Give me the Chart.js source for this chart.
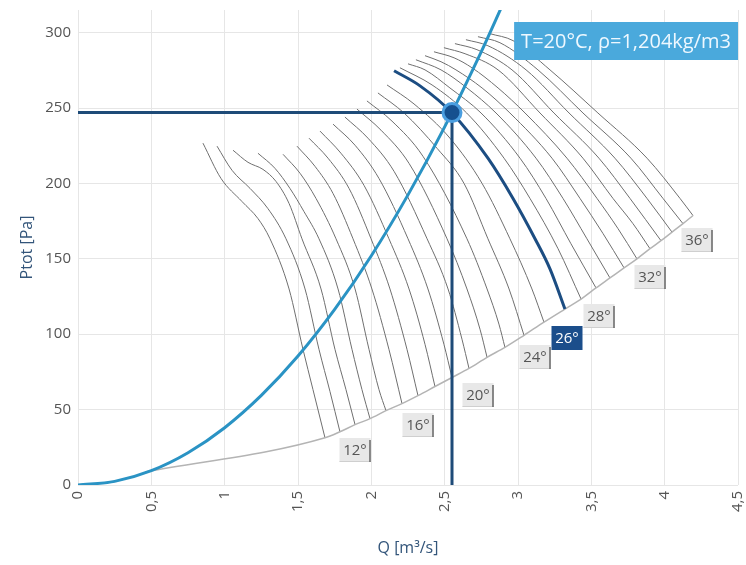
<!DOCTYPE html>
<html>
<head>
<meta charset="utf-8">
<script src="https://cdn.jsdelivr.net/npm/chart.js@4.4.1/dist/chart.umd.min.js"></script>
<style>
  html, body { margin: 0; padding: 0; background: #fff; }
</style>
</head>
<body>
<canvas id="chart" width="746" height="565"></canvas>
<script>
// blade angles, one fan curve each
const angles = [12, 13, 14, 15, 16, 17, 18, 19, 20, 21, 22, 23, 24, 25, 26, 27, 28, 29, 30, 31, 32, 33, 34, 35, 36]
const highlightAngle = 26

// Q [m3/s] of each curve, same order as angles
const curveQ = [
    [0.852, 0.975, 1.118, 1.227, 1.309, 1.439, 1.534, 1.602, 1.684],
    [0.948, 1.050, 1.173, 1.295, 1.418, 1.548, 1.643, 1.718, 1.786],
    [1.057, 1.159, 1.261, 1.350, 1.439, 1.527, 1.657, 1.752, 1.827, 1.889],
    [1.227, 1.343, 1.445, 1.541, 1.643, 1.773, 1.868, 1.936, 1.991],
    [1.398, 1.514, 1.623, 1.759, 1.889, 1.984, 2.052, 2.100],
    [1.493, 1.616, 1.739, 1.875, 2.004, 2.120, 2.209],
    [1.575, 1.705, 1.848, 1.998, 2.127, 2.243, 2.318],
    [1.650, 1.793, 1.950, 2.120, 2.257, 2.366, 2.434],
    [1.739, 1.889, 2.052, 2.250, 2.386, 2.495, 2.550],
    [1.820, 1.977, 2.155, 2.380, 2.523, 2.618, 2.666],
    [1.902, 2.066, 2.257, 2.516, 2.652, 2.741, 2.789],
    [1.970, 2.141, 2.352, 2.652, 2.789, 2.870, 2.911],
    [2.045, 2.223, 2.448, 2.632, 2.795, 2.939, 3.041],
    [2.107, 2.291, 2.536, 2.755, 2.945, 3.095, 3.177],
    [2.155, 2.332, 2.550, 2.795, 2.966, 3.116, 3.218, 3.320],
    [2.195, 2.414, 2.650, 2.905, 3.082, 3.273, 3.430],
    [2.250, 2.366, 2.536, 2.748, 3.014, 3.191, 3.361, 3.532],
    [2.304, 2.475, 2.652, 2.850, 3.123, 3.307, 3.470, 3.627],
    [2.366, 2.475, 2.577, 2.755, 2.945, 3.232, 3.423, 3.580, 3.723],
    [2.427, 2.564, 2.686, 2.864, 3.048, 3.334, 3.539, 3.682, 3.811],
    [2.495, 2.639, 2.864, 3.150, 3.443, 3.648, 3.784, 3.900],
    [2.570, 2.720, 2.959, 3.245, 3.552, 3.764, 3.975],
    [2.645, 2.795, 3.055, 3.348, 3.661, 3.880, 4.050],
    [2.727, 2.877, 3.136, 3.443, 3.770, 3.989, 4.125],
    [2.809, 2.966, 3.218, 3.545, 3.880, 4.105, 4.193]
]

// Ptot [Pa] of each curve
const curveP = [
    [226.7, 203.3, 188, 176.7, 163.3, 130, 90, 63.3, 31.3],
    [224.7, 208.7, 196.7, 183.3, 163.3, 130, 90, 62, 35.3],
    [222, 214, 209.3, 201.3, 186.7, 163.3, 130, 90, 63.3, 40],
    [220, 210, 196.7, 181.3, 163.3, 130, 90, 63.3, 44],
    [219.3, 206.7, 190, 163.3, 130, 90, 63.3, 49.3],
    [224.7, 211.3, 193.3, 163.3, 130, 90, 54],
    [230, 216.7, 196.7, 163.3, 130, 90, 59.3],
    [234.7, 220, 198.7, 163.3, 130, 93.3, 65.3],
    [239.3, 225.3, 203.3, 163.3, 130, 93.3, 71.3],
    [244, 230, 208, 163.3, 130, 96.7, 77.3],
    [249.3, 235.3, 213.3, 163.3, 130, 103.3, 84.7],
    [254.7, 241.3, 218, 163.3, 130, 106.7, 91.3],
    [260, 246.7, 223.3, 200, 163.3, 130, 99.3],
    [265.3, 252.7, 230, 200, 163.3, 130, 108],
    [274.7, 264.7, 246.7, 216.7, 190, 163.3, 143.3, 116.7],
    [276.7, 265.3, 246.7, 216.7, 190, 156.7, 123.3],
    [279.3, 275.3, 263.3, 246.7, 216.7, 190, 160, 130.7],
    [282, 275.3, 263.3, 246.7, 216.7, 190, 163.3, 137.3],
    [284.7, 280.7, 275.3, 263.3, 246.7, 216.7, 190, 166.7, 144],
    [287.3, 283.3, 276.7, 263.3, 246.7, 216.7, 190, 170, 150],
    [290, 286, 275.3, 246.7, 216.7, 190, 173.3, 156.7],
    [292.7, 288.7, 275.3, 246.7, 216.7, 190, 162],
    [295.3, 291.3, 275.3, 246.7, 216.7, 190, 167.7],
    [297.3, 293.3, 275.3, 246.7, 216.7, 190, 173.3],
    [299.3, 294.7, 275.3, 246.7, 216.7, 190, 178.7]
]

// lower limit line starts here, then runs through the curve ends
const limitStartQ = 0.457
const limitStartP = 8.7

// system curve
const sysQ = [0, 0.25, 0.5, 0.75, 1, 1.25, 1.5, 1.75, 2, 2.25, 2.5, 2.75, 2.9]
const sysP = [0, 2.4, 9.5, 21.4, 38, 59.4, 85.5, 116.4, 152, 192.4, 237.5, 287.4, 319.6]

// operating point
const opQ = 2.55
const opP = 247

// angle tags
const labelAngles = [12, 16, 20, 24, 26, 28, 32, 36]
const labelQ = [1.889, 2.318, 2.727, 3.116, 3.334, 3.552, 3.900, 4.220]
const labelP = [23.2, 39.8, 59.8, 85, 97.6, 112.2, 138.1, 162.7]

const airText = 'T=20°C, ρ=1,204kg/m3'

const FONT = '"Open Sans", "DejaVu Sans", sans-serif'

function toPoints(qs, ps) {
    return qs.map((q, i) => ({ x: q, y: ps[i] }))
}

let datasets = []

angles.forEach((a, i) => {
    let hl = a === highlightAngle
    datasets.push({
        data: toPoints(curveQ[i], curveP[i]),
        borderColor: hl ? '#1c4d82' : '#6f6f6f',
        borderWidth: hl ? 3 : 1,
        order: hl ? 1 : 6
    })
})

let limitPts = [{ x: limitStartQ, y: limitStartP }]
angles.forEach((a, i) => {
    let n = curveQ[i].length - 1
    limitPts.push({ x: curveQ[i][n], y: curveP[i][n] })
})
datasets.push({ data: limitPts, borderColor: '#b4b4b4', borderWidth: 1.5, order: 5 })

datasets.push({ data: toPoints(sysQ, sysP), borderColor: '#2a93c4', borderWidth: 3, order: 3 })

datasets.push({ data: [{ x: 0, y: opP }, { x: opQ, y: opP }], borderColor: '#1e4b78', borderWidth: 3, order: 2, cubicInterpolationMode: 'default', tension: 0 })
datasets.push({ data: [{ x: opQ, y: 0 }, { x: opQ, y: opP }], borderColor: '#1e4b78', borderWidth: 3, order: 2, cubicInterpolationMode: 'default', tension: 0 })

datasets.push({
    data: [{ x: opQ, y: opP }],
    showLine: false,
    pointRadius: 9,
    pointBackgroundColor: '#15508f',
    pointBorderColor: '#4a9ee0',
    pointBorderWidth: 3,
    order: 0
})

const angleTags = {
    id: 'angleTags',
    afterDatasetsDraw(chart) {
        const { ctx, scales: { x, y }, chartArea } = chart
        ctx.save()
        ctx.font = '15px ' + FONT
        ctx.textAlign = 'center'
        ctx.textBaseline = 'middle'
        labelAngles.forEach((a, i) => {
            let px = Math.round(x.getPixelForValue(labelQ[i]))
            let py = Math.round(y.getPixelForValue(labelP[i]))
            let w = 31, h = 24
            let hl = a === highlightAngle
            ctx.fillStyle = hl ? '#1b4e8b' : '#e8e8e8'
            ctx.fillRect(px - w / 2, py - h / 2, w, h)
            if (!hl) {
                ctx.strokeStyle = '#cfcfcf'
                ctx.lineWidth = 1
                ctx.beginPath()
                ctx.moveTo(px - w / 2, py + h / 2 - 0.5)
                ctx.lineTo(px + w / 2, py + h / 2 - 0.5)
                ctx.stroke()
                ctx.strokeStyle = '#666'
                ctx.lineWidth = 1.5
                ctx.beginPath()
                ctx.moveTo(px + w / 2 - 0.5, py - h / 2 + 2)
                ctx.lineTo(px + w / 2 - 0.5, py + h / 2)
                ctx.stroke()
            }
            ctx.fillStyle = hl ? '#ffffff' : '#555'
            ctx.fillText(a + '°', px, py + 1)
        })

        // air condition box, top right
        ctx.font = '20px ' + FONT
        let tw = ctx.measureText(airText).width
        let bw = tw + 14, bh = 38
        let bx = chartArea.right - bw, by = chartArea.top + 12
        ctx.fillStyle = '#4aa9dc'
        ctx.fillRect(bx, by, bw, bh)
        ctx.fillStyle = '#eef8ff'
        ctx.textAlign = 'left'
        ctx.fillText(airText, bx + 7, by + bh / 2 + 1)
        ctx.restore()
    }
}

new Chart(document.getElementById('chart'), {
    type: 'scatter',
    data: { datasets: datasets },
    plugins: [angleTags],
    options: {
        responsive: false,
        animation: false,
        showLine: true,
        layout: { autoPadding: false, padding: { top: 10, right: 8, left: 0, bottom: 0 } },
        elements: {
            point: { radius: 0 },
            line: { cubicInterpolationMode: 'monotone', fill: false }
        },
        plugins: {
            legend: { display: false },
            tooltip: { enabled: false }
        },
        scales: {
            x: {
                type: 'linear',
                min: 0,
                max: 4.5,
                afterFit: s => {
                    s.height = 80
                    s.paddingLeft = 0
                    s.paddingRight = 0
                },
                border: { display: false },
                grid: { color: '#e6e6e6', drawTicks: false },
                ticks: {
                    stepSize: 0.5,
                    minRotation: 90,
                    maxRotation: 90,
                    padding: 6,
                    color: '#555',
                    font: { family: FONT, size: 15 },
                    callback: v => String(v).replace('.', ',')
                },
                title: {
                    display: true,
                    text: 'Q [m³/s]',
                    color: '#33557a',
                    font: { family: FONT, size: 16 },
                    padding: { top: 0, bottom: 7 }
                }
            },
            y: {
                type: 'linear',
                min: 0,
                max: 315,
                afterFit: s => {
                    s.width = 78
                    s.paddingTop = 0
                    s.paddingBottom = 0
                },
                border: { display: false },
                grid: { color: '#e6e6e6', drawTicks: false },
                ticks: {
                    stepSize: 50,
                    includeBounds: false,
                    padding: 7,
                    color: '#555',
                    font: { family: FONT, size: 15 }
                },
                title: {
                    display: true,
                    text: 'Ptot [Pa]',
                    color: '#33557a',
                    font: { family: FONT, size: 16 },
                    padding: { top: 18, bottom: 0 }
                }
            }
        }
    }
})
</script>
</body>
</html>
